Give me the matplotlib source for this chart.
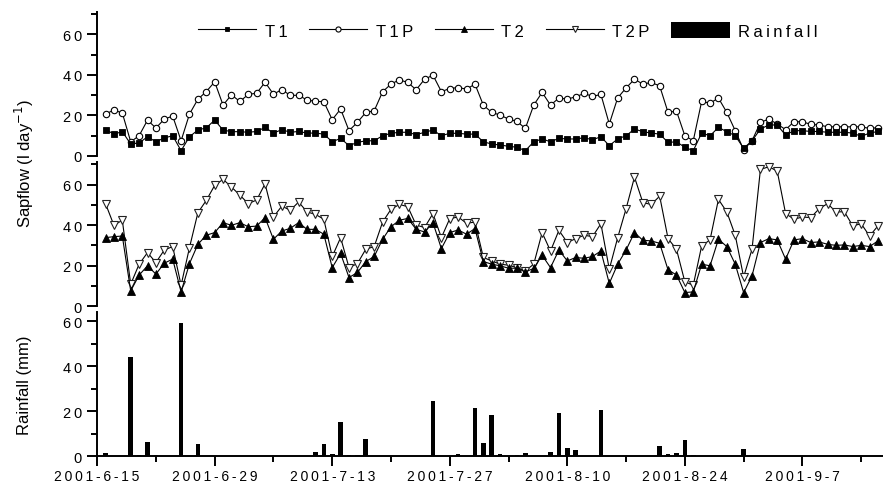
import matplotlib
matplotlib.use("Agg")
import matplotlib.pyplot as plt
import matplotlib.dates as mdates
import matplotlib.ticker as mticker
import pandas as pd

plt.rcParams['font.family'] = ['Liberation Sans', 'DejaVu Sans']

# daily values, 2001-6-16 .. 2001-9-16
days = pd.date_range('2001-06-16', periods=93, freq='D')

T1 = [13, 10.8, 12, 5.9, 6.4, 9.5, 7, 8.9, 10, 2.6,
      9.5, 12.8, 13.9, 17.7, 12.8, 12, 12, 11.7, 12.1, 14.1,
      11.3, 13, 11.7, 12.1, 11.3, 11.3, 10.8, 7, 8.7, 5.1,
      6.7, 7.5, 7.5, 10, 11.2, 11.7, 11.7, 10.5, 11.7, 12.8,
      10, 11.2, 11.2, 10.8, 10.8, 7, 5.9, 5.4, 4.8, 4.3,
      2.6, 7, 8.4, 7, 8.7, 8.4, 8.4, 9, 8, 9.5,
      5.1, 8.4, 10, 13.3, 12, 11.3, 10.8, 6.7, 7, 4.3,
      2.6, 11.3, 10, 14.1, 12, 10, 3.8, 7.5, 13.3, 15.3,
      15.3, 10.3, 12.5, 12.5, 12.1, 12.1, 11.7, 11.7, 11.7, 11.3,
      9.7, 11.3, 12.1]

T1P = [20.7, 22.7, 21.2, 7, 10, 17.7, 13.8, 18.2, 19.7, 7.5,
       20.7, 28, 31.8, 36.6, 25.1, 30.2, 26.9, 30.4, 31, 36.4,
       30.5, 32.8, 29.9, 30, 27.6, 27, 26.8, 17.9, 23.2, 12.5,
       16.6, 21.5, 22.3, 31.7, 35.5, 37.6, 36.3, 32.7, 37.9, 39.9,
       31.8, 33.3, 33.8, 33, 35.5, 25.1, 21.5, 20.2, 18.2, 17.1,
       13.6, 25.1, 31.4, 25.1, 28.6, 28.1, 29.2, 30.9, 29.4, 30.4,
       15.8, 28.7, 33.6, 37.9, 35.5, 36.3, 34.6, 21.5, 22.2, 10,
       7.5, 26.9, 26.1, 28.6, 21.5, 12.5, 3.1, 7.5, 16.6, 18.2,
       15.8, 13, 16.9, 16.9, 15.6, 15.3, 14.4, 14.4, 14.4, 14.4,
       14.4, 13.6, 14]

T2 = [33.8, 34.3, 34.6, 7.5, 15.3, 19.9, 15.8, 21.2, 23.2, 7,
      21, 30.5, 35, 36.3, 41.2, 39.9, 41.2, 39.2, 39.5, 43.7,
      33, 37.1, 38.4, 41.2, 37.9, 37.9, 35.5, 19, 26, 14.1,
      16.6, 22, 24.5, 33, 39.2, 42.4, 43.3, 37.9, 36.6, 41.2,
      28.4, 36.3, 37.6, 35.5, 38.3, 22, 20.7, 19.9, 18.7, 18.7,
      16.9, 18.6, 25.1, 19, 27.7, 22.3, 24, 23.6, 24.5, 27.2,
      11.2, 20.7, 27.7, 36.3, 32.5, 32.2, 31, 17.9, 15.4, 6.7,
      7, 20.7, 19.9, 33, 29.4, 20.7, 6.7, 14.9, 31.4, 33.3,
      32.7, 23.2, 32.7, 33.3, 31.4, 31.7, 30.5, 30, 30.2, 29.4,
      30, 29.4, 32.2]

T2P = [50.6, 39.9, 42.4, 10.8, 20.7, 26.4, 21.5, 27.7, 29.4, 10.3,
       28.9, 46.1, 52.2, 59.6, 62.6, 58.8, 54.8, 50.6, 52.4, 60.4,
       44, 49.4, 47.3, 51.4, 46.5, 45.3, 42.9, 24.5, 33.8, 19,
       21, 28.1, 29.4, 41.5, 47.8, 50.2, 49.1, 40, 38.8, 45.7,
       33.8, 43.2, 44, 40.9, 41.5, 24, 22.3, 20.7, 20.2, 19,
       17.4, 20.7, 36.3, 27.2, 37.4, 31.4, 33.3, 35, 34.3, 40.7,
       18.2, 33.8, 48.1, 63.7, 51.1, 50.2, 54.3, 33.3, 28.1, 12,
       10.3, 29.7, 32.7, 52.7, 46.5, 35, 14.4, 28.1, 67.5, 68.8,
       66.7, 45.7, 42.9, 44, 43.7, 48.1, 50.6, 46.5, 46.6, 39.6,
       40.7, 34.6, 39.6]

rain_dates = ['2001-06-16', '2001-06-19', '2001-06-20', '2001-06-21', '2001-06-22',
              '2001-06-25', '2001-06-27', '2001-07-11', '2001-07-12', '2001-07-13',
              '2001-07-14', '2001-07-15', '2001-07-16', '2001-07-17', '2001-07-19',
              '2001-07-25', '2001-07-28', '2001-07-30', '2001-07-31', '2001-08-01',
              '2001-08-02', '2001-08-04', '2001-08-05', '2001-08-08', '2001-08-09',
              '2001-08-10', '2001-08-11', '2001-08-14', '2001-08-21', '2001-08-22',
              '2001-08-23', '2001-08-24', '2001-08-25', '2001-08-31']
rain_mm = [1.3, 44.3, 0.3, 6.1, 0.5,
           59.1, 5.3, 1.9, 5.2, 0.9,
           15, 0.6, 0.5, 7.5, 0.2,
           24.3, 0.8, 21.3, 5.8, 18.4,
           0.8, 0.3, 1.5, 1.9, 19,
           3.6, 2.5, 20.4, 4.4, 0.8,
           1.5, 7, 0.3, 3]

tick_dates = ['2001-06-15', '2001-06-29', '2001-07-13', '2001-07-27',
              '2001-08-10', '2001-08-24', '2001-09-07']
tick_labels = ['2001-6-15', '2001-6-29', '2001-7-13', '2001-7-27',
               '2001-8-10', '2001-8-24', '2001-9-7']
minor_dates = ['2001-06-22', '2001-07-06', '2001-07-20', '2001-08-03',
               '2001-08-17', '2001-08-31', '2001-09-14']


def spaced(s, sep='\u2009'):
    return sep.join(s)


fig = plt.figure(figsize=(8.83, 4.89), dpi=100)
ax1 = fig.add_axes([0.110, 0.679, 0.890, 0.294])
ax2 = fig.add_axes([0.110, 0.372, 0.890, 0.294], sharex=ax1)
ax3 = fig.add_axes([0.110, 0.0654, 0.890, 0.294], sharex=ax1)

lw = 0.8
l_t1, = ax1.plot(days, T1, '-', color='black', lw=lw, marker='s', ms=4.3,
                 mfc='black', mec='black', mew=0.6, zorder=3)
l_t1p, = ax1.plot(days, T1P, '-', color='black', lw=lw, marker='o', ms=4.6,
                  mfc='white', mec='black', mew=0.8, zorder=2)
l_t2p, = ax2.plot(days, T2P, '-', color='black', lw=lw, marker='v', ms=5.2,
                  mfc='white', mec='#222222', mew=0.8, zorder=2)
l_t2, = ax2.plot(days, T2, '-', color='black', lw=lw, marker='^', ms=5.2,
                 mfc='black', mec='black', mew=0.6, zorder=3)
bars = ax3.bar(pd.to_datetime(rain_dates), rain_mm, width=0.55, color='black')

ax1.set_ylim(0, 71)
ax2.set_ylim(0, 71)
ax3.set_ylim(0, 64)
start = pd.Timestamp('2001-06-15')
ax3.set_xlim(start, start + pd.Timedelta(days=93.6))

for ax in (ax1, ax2, ax3):
    for s in ('top', 'right'):
        ax.spines[s].set_visible(False)
    ax.spines['left'].set_linewidth(1.4)
    ax.yaxis.set_major_locator(mticker.MultipleLocator(20))
    ax.yaxis.set_minor_locator(mticker.MultipleLocator(10))
    ax.yaxis.set_major_formatter(mticker.FuncFormatter(lambda v, p: spaced('%d' % v)))
    ax.tick_params(axis='y', which='major', length=7, width=1.4, direction='out',
                   labelsize=10.5, pad=4)
    ax.tick_params(axis='y', which='minor', length=4, width=1.4, direction='out')

for ax in (ax1, ax2):
    ax.spines['bottom'].set_visible(False)
    ax.tick_params(axis='x', which='both', bottom=False, labelbottom=False)

ax3.spines['bottom'].set_linewidth(1.4)
ax3.xaxis.set_major_locator(mticker.FixedLocator(mdates.date2num(pd.to_datetime(tick_dates))))
ax3.xaxis.set_minor_locator(mticker.FixedLocator(mdates.date2num(pd.to_datetime(minor_dates))))
ax3.xaxis.set_major_formatter(mticker.FixedFormatter([spaced(t) for t in tick_labels]))
ax3.tick_params(axis='x', which='major', length=7, width=1.4, direction='out',
                labelsize=10, pad=2)
ax3.tick_params(axis='x', which='minor', length=4, width=1.4, direction='out')

fig.text(0.028, 0.665, 'Sapflow (l day$^{-1}$)', rotation=90, ha='center', va='center',
         fontsize=12)
fig.text(0.028, 0.212, 'Rainfall (mm)', rotation=90, ha='center', va='center',
         fontsize=12)

fig.legend([l_t1, l_t1p, l_t2, l_t2p, bars],
           [spaced('T1'), spaced('T1P'), spaced('T2'), spaced('T2P'),
            spaced('Rainfall')],
           loc='center', bbox_to_anchor=(0.575, 0.935), ncol=5, frameon=False,
           fontsize=12, handlelength=3.5, handleheight=1.1, handletextpad=0.5,
           columnspacing=1.3, borderpad=0, markerscale=0.8)

fig.savefig('out.png', dpi=100)
